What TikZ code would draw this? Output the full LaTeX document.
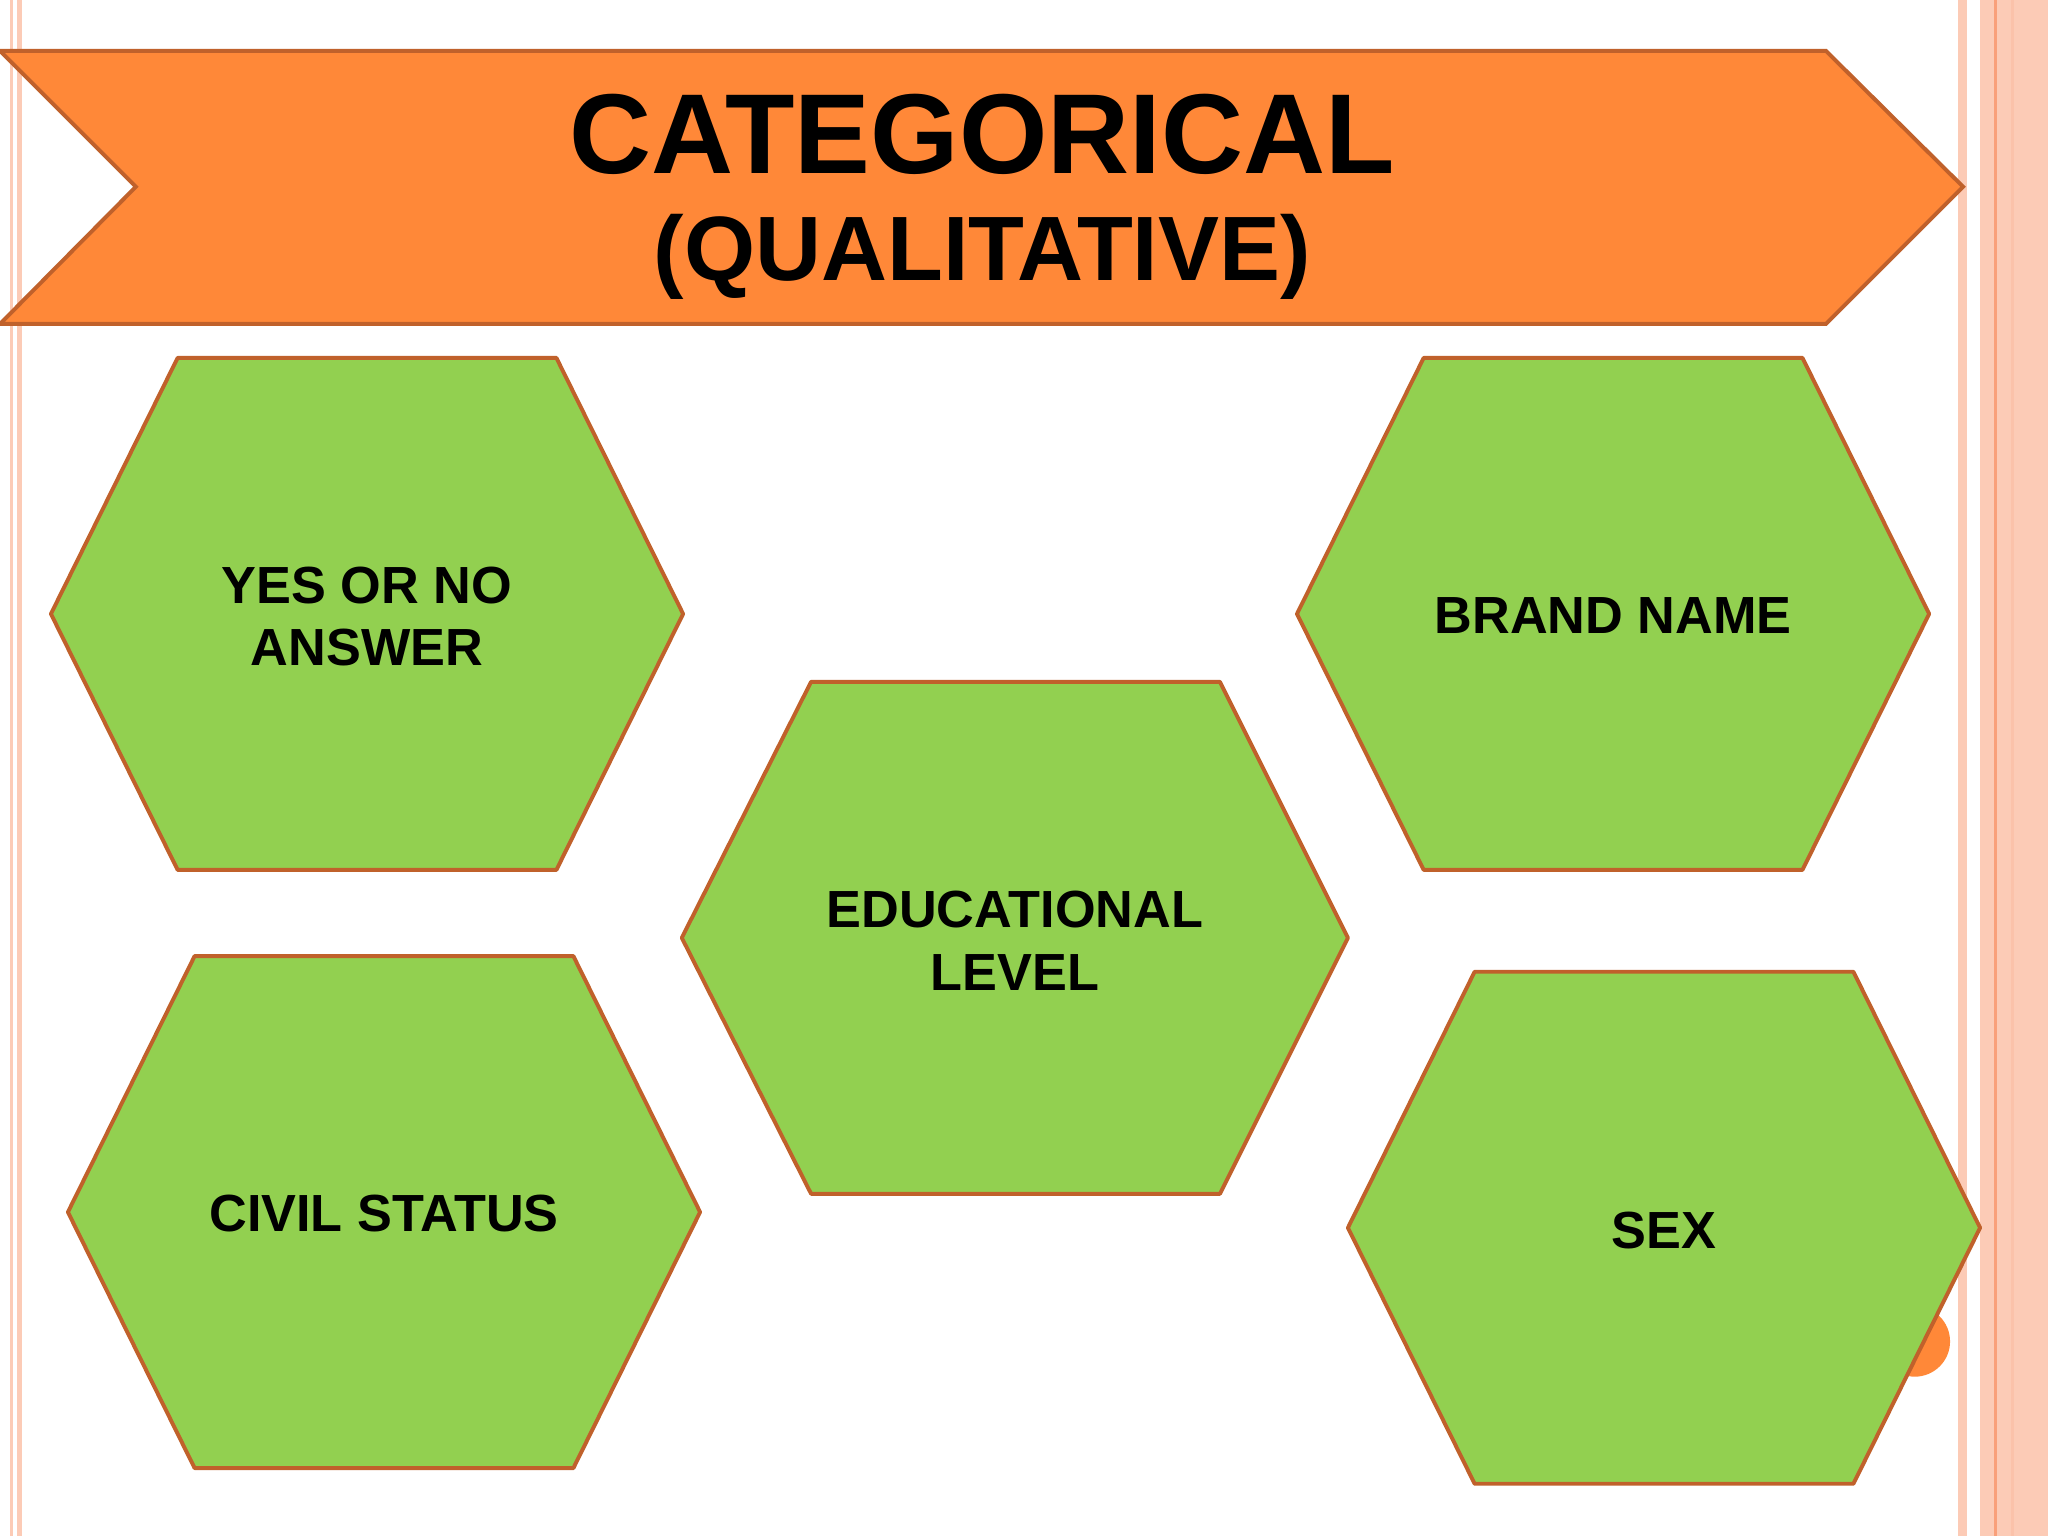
\documentclass[tikz,border=0pt]{standalone}
\usepackage{fontspec}
\setmainfont{Liberation Sans}
\begin{document}
\begin{tikzpicture}[x=1pt,y=-1pt,
  hexa/.style={fill=hexgreen,draw=edgebrown,line width=3pt,line join=round},
  lbl/.style={font=\fontsize{40}{48}\selectfont\bfseries,align=center}]
\definecolor{hexgreen}{HTML}{92D050}
\definecolor{edgebrown}{HTML}{C0612B}
\definecolor{bannerorange}{HTML}{FF8838}
\definecolor{stripe}{HTML}{FCCBB6}
\definecolor{stripedark}{HTML}{F9A07A}
\useasboundingbox (0,0) rectangle (1568,1176);
\fill[white] (0,0) rectangle (1568,1176);
% side stripes
\fill[stripe] (8,0) rectangle (10,1176);
\fill[stripe] (13,0) rectangle (17,1176);
\fill[stripe] (1499,0) rectangle (1506,1176);
\fill[stripe] (1516,0) rectangle (1568,1176);
\fill[stripedark] (1527,0) rectangle (1529,1176);
\fill[stripe!80!stripedark] (1540,0) rectangle (1542,1176);
% banner
\draw[fill=bannerorange,draw=edgebrown,line width=3pt,line join=miter]
  (0,39) -- (1398,39) -- (1503,143) -- (1398,248) -- (0,248) -- (104,143) -- cycle;
\node (title) at (752,103) {\fontsize{87}{90}\selectfont\bfseries CATEGORICAL};
\node (sub) at (752,197) {\fontsize{70}{74}\selectfont\bfseries (QUALITATIVE)};
% orange circle behind sex
\fill[bannerorange] (1466,1027) circle (27);
% hexagons
\newcommand{\hexat}[3]{%
 \draw[hexa] (#1-242,#2) -- (#1-145,#2-196) -- (#1+145,#2-196) -- (#1+242,#2) -- (#1+145,#2+196) -- (#1-145,#2+196) -- cycle;
 \node[lbl] (#3) at (#1,#2) {};}
\hexat{281}{470}{h1}
\node[lbl] (t1) at (281,472) {YES OR NO\\ANSWER};
\draw[hexa] (522,718) -- (621,522) -- (934,522) -- (1032,718) -- (934,914) -- (621,914) -- cycle;
\node[lbl] (t2) at (777,720) {EDUCATIONAL\\LEVEL};
\hexat{1235}{470}{h3}
\node[lbl] (t3) at (1235,471) {BRAND NAME};
\hexat{294}{928}{h4}
\node[lbl] (t4) at (294,929) {CIVIL STATUS};
\hexat{1274}{940}{h5}
\node[lbl] (t5) at (1274,942) {SEX};
\end{tikzpicture}
\end{document}
